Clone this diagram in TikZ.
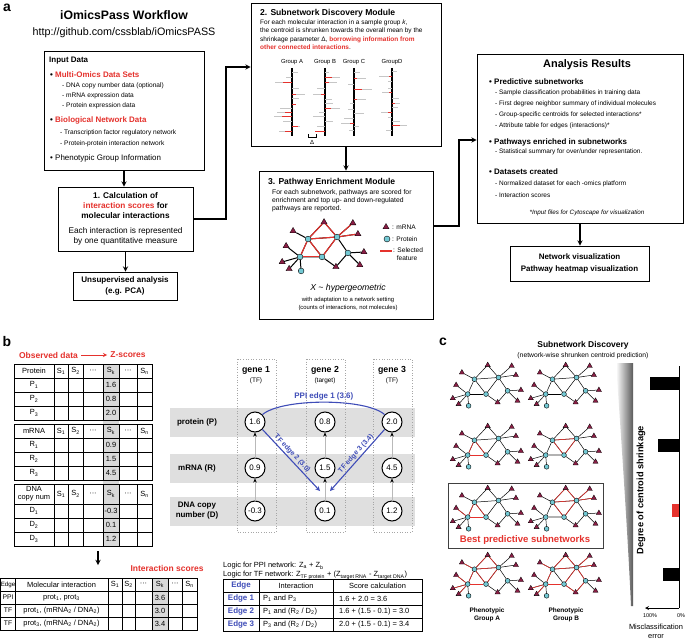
\documentclass[tikz,border=0pt]{standalone}
\usepackage{fontspec}
\setmainfont{Liberation Sans}
\usetikzlibrary{arrows,arrows.meta,calc,positioning,shapes.geometric}

\definecolor{hired}{HTML}{E5322D}
\definecolor{edgeblue}{HTML}{3F4DB8}
\definecolor{protcol}{HTML}{73C9D4}
\definecolor{mrnacol}{HTML}{8A1E45}
\definecolor{bandgray}{HTML}{DFDFDF}
\definecolor{cellgray}{HTML}{D9D9D9}

\newcommand{\fsz}[2]{\fontsize{#1}{#2}\selectfont}
\newcommand{\redlinks}[2]{\foreach \a/\b in {#2} \draw[rlk] (#1-\a) -- (#1-\b);}

\tikzset{
  box/.style={draw, line width=0.9bp},
  arr/.style={->, line width=1.3bp},
  plbl/.style={font=\fsz{14}{14}\bfseries},
  ttl/.style={font=\fsz{8.6}{10}\bfseries, anchor=west},
  bul/.style={font=\fsz{8}{9}\bfseries, anchor=west},
  itm/.style={font=\fsz{6.6}{8}, anchor=west},
  txt/.style={font=\fsz{6.6}{8}},
  cell/.style={font=\fsz{7.5}{8}},
  blt/.style={font=\fsz{8}{9}\bfseries, text=edgeblue},
  zc/.style={circle, draw, line width=1bp, fill=white, minimum size=20bp, font=\fsz{8}{8}},
  tb/.style={line width=0.6bp},
  bar/.style={gray!45, line width=1bp},
  rbar/.style={hired, line width=1bp},
  garr/.style={gray!55, line width=0.9bp, -{Stealth[color=black, length=4bp, width=3.5bp]}},
  bl/.style={edgeblue, line width=1.1bp},
  prot/.style={circle, draw, fill=protcol, line width=0.4bp, minimum size=4.8bp},
  mrna/.style={regular polygon, regular polygon sides=3, draw, fill=mrnacol, line width=0.3bp, minimum size=6bp},
  lk/.style={line width=0.5bp},
  rlk/.style={hired, line width=0.6bp},
  pics/subnet/.style={code={
    \foreach \n/\x/\y in {p1/-11.6/-5.8, p2/12.5/-7.5, p3/-18.3/9.1, p4/0/9.1, p5/21.6/5.8, p6/-17.4/20.8}
      \node[prot] (-\n) at (\x,\y) {};
    \foreach \n/\x/\y in {t1/1.7/-19.9, t2/25.7/-19.1, t3/-24.1/-12.5, t4/29.9/-10, t5/-29.9/0, t6/34.9/5, t7/-33.2/13.3, t8/-27.4/19.1, t9/11.6/17.4, t10/31.5/15.8}
      \node[mrna] (-\n) at (\x,\y) {};
    \foreach \a/\b in {p1/t1, t1/p2, p1/p2, p2/t2, p2/t4, p1/p3, p1/p4, p3/p4, p4/p2, p1/t3, p3/t5, p3/t7, p3/t8, p3/p6, p4/t9, t9/p5, p5/p2, p5/t6, p5/t10}
      \draw[lk] (-\a) -- (-\b);
  }}
}

\begin{document}
\begin{tikzpicture}[x=1bp, y=-1bp, >=stealth, every node/.style={inner sep=0pt}]
\fill[white] (0,0) rectangle (685,640);
\useasboundingbox (0,0) rectangle (685,640);

% ---- a: workflow ----
\node[plbl] (la) at (7,8) {a};
\node[font=\fsz{12.3}{13}\bfseries] (wft) at (124,15) {iOmicsPass Workflow};
\node[font=\fsz{10.8}{11}] (url) at (124,33) {http://github.com/cssblab/iOmicsPASS};

\node[box, minimum width=160bp, minimum height=119bp] (inbox) at (124,110.5) {};
\node[bul] (in1) at (49,61) {Input Data};
\node[bul] (in2) at (50,75) {• \textcolor{hired}{Multi-Omics Data Sets}};
\node[itm] (in3) at (62,86) {- DNA copy number data (optional)};
\node[itm] (in4) at (62,96) {- mRNA expression data};
\node[itm] (in5) at (62,106) {- Protein expression data};
\node[bul] (in6) at (50,120) {• \textcolor{hired}{Biological Network Data}};
\node[itm] (in7) at (60,133) {- Transcription factor regulatory network};
\node[itm] (in8) at (60,144) {- Protein-protein interaction network};
\node[bul, font=\fsz{8}{9}] (in9) at (50,158) {• Phenotypic Group Information};

\node[box, minimum width=135bp, minimum height=64bp] (calc) at (125.5,219) {};
\node[font=\fsz{8.3}{10}\bfseries, align=center] (c1) at (125.5,206) {1. Calculation of\\\textcolor{hired}{interaction scores} for\\molecular interactions};
\node[font=\fsz{8.3}{10}, align=center] (c2) at (125.5,236) {Each interaction is represented\\by one quantitative measure};

\node[box, minimum width=104bp, minimum height=28bp, font=\fsz{8.1}{10.5}\bfseries, align=center] (unsup) at (125,286) {Unsupervised analysis\\(e.g. PCA)};

% module 2
\node[box, minimum width=190bp, minimum height=143bp] (disc) at (346,74.5) {};
\node[ttl] (d1) at (260,13) {2. Subnetwork Discovery Module};
\node[font=\fsz{6.5}{8.5}, align=left, anchor=north west] (d2) at (260,19.5) {For each molecular interaction in a sample group \textit{k},\\the centroid is shrunken towards the overall mean by the\\shrinkage parameter Δ, \textcolor{hired}{\bfseries borrowing information from}\\\textcolor{hired}{\bfseries other connected interactions}.};
\foreach \gx/\gn in {292/Group A, 325/Group B, 354/Group C, 392/GroupD} {
  \node[font=\fsz{5.9}{6}] (g\gx) at (\gx,62) {\gn};
  \draw[line width=1.3bp] (\gx,68) -- (\gx,136);
}
\foreach \y/\a/\b/\r in {73/0/6/0, 78/-6/0/0, 83/-17/0/-9, 89/0/7/0, 95/0/13/4, 99/0/7/0, 105/0/4/4, 109/-12/0/0, 113/-15/0/-7, 117/-18/0/-10, 122/-9/0/0, 127/0/8/6, 132/-13/0/-7}
  {\draw[bar] (292+\a,\y) -- (292+\b,\y); \draw[rbar] (292,\y) -- (292+\r,\y);}
\foreach \y/\a/\b/\r in {73/0/4/0, 78/0/15/7, 83/0/12/4, 89/-8/0/0, 95/-12/0/-4, 100/0/7/0, 104/0/8/0, 109/0/15/6, 113/-6/0/0, 117/-12/0/0, 122/0/8/0, 127/-8/0/0, 132/-10/0/-10}
  {\draw[bar] (325+\a,\y) -- (325+\b,\y); \draw[rbar] (325,\y) -- (325+\r,\y);}
\foreach \y/\a/\b/\r in {73/0/6/0, 79/0/12/3, 85/-6/0/0, 90/0/18/8, 100/0/12/3, 104/-4/0/0, 110/-6/0/0, 114/0/10/0, 119/-10/0/0, 124/-13/0/-4, 127/0/5/0, 131/-5/0/0}
  {\draw[bar] (354+\a,\y) -- (354+\b,\y); \draw[rbar] (354,\y) -- (354+\r,\y);}
\foreach \y/\a/\b/\r in {72/0/5/0, 77/-13/0/-3, 82/-4/0/0, 89/-4/0/0, 93/-10/0/-3, 99/0/7/0, 104/0/8/3, 108/0/6/0, 113/-11/0/-4, 118/-4/0/0, 122/0/8/0, 126/0/15/8, 131/-6/0/0}
  {\draw[bar] (392+\a,\y) -- (392+\b,\y); \draw[rbar] (392,\y) -- (392+\r,\y);}
\draw[line width=0.6bp] (308,134) -- (308,137) -- (316,137) -- (316,134);
\node[font=\fsz{6}{6}] (dl) at (312,142) {Δ};

% module 3
\node[box, minimum width=174bp, minimum height=148bp] (path) at (346,245) {};
\node[ttl] (p1) at (268,182) {3. Pathway Enrichment Module};
\node[font=\fsz{6.8}{8}, align=left, anchor=north west] (p2) at (272,189.5) {For each subnetwork, pathways are scored for\\enrichment and top up- and down-regulated\\pathways are reported.};
\pic[scale=1.2, transform shape, lk/.style={line width=1bp}] (M) at (322,246) {subnet};
\begin{scope}[rlk/.style={hired, line width=1.1bp}]
  \redlinks{M}{p1/t1, t1/p2, p1/p2, p2/t2, p2/t4, p1/p3, p1/p4, p3/p4, p4/p2}
\end{scope}
\node[mrna, minimum size=7bp] (lgm) at (386,227) {};
\node[txt, anchor=west] (lgmt) at (392,227) {: mRNA};
\node[prot, minimum size=6bp] (lgp) at (387,239) {};
\node[txt, anchor=west] (lgpt) at (392,239) {: Protein};
\coordinate (lr1) at (380,251); \coordinate (lr2) at (392,251);
\draw[hired, line width=1.2bp] (lr1) -- (lr2);
\node[txt, anchor=north west, align=left] (lgst) at (393,247.5) {: Selected\\\ \ feature};
\node[font=\fsz{8.7}{10}\itshape] (xh) at (348,288) {X \textasciitilde\ hypergeometric};
\node[font=\fsz{5.9}{8}, align=center] (ad) at (348,304) {with adaptation to a network setting\\(counts of interactions, not molecules)};

% results
\node[box, minimum width=206bp, minimum height=169bp] (res) at (580,138.5) {};
\node[font=\fsz{11}{12}\bfseries] (r0) at (587,65) {Analysis Results};
\node[bul] (r1) at (489,82) {• Predictive subnetworks};
\node[itm, font=\fsz{6.5}{8}] (r2) at (495,93) {- Sample classification probabilities in training data};
\node[itm, font=\fsz{6.5}{8}] (r3) at (495,104) {- First degree neighbor summary of individual molecules};
\node[itm, font=\fsz{6.5}{8}] (r4) at (495,115) {- Group-specific centroids for selected interactions*};
\node[itm, font=\fsz{6.5}{8}] (r5) at (495,126) {- Attribute table for edges (interactions)*};
\node[bul] (r6) at (489,142) {• Pathways enriched in subnetworks};
\node[itm, font=\fsz{6.5}{8}] (r7) at (495,152) {- Statistical summary for over/under representation.};
\node[bul] (r8) at (489,172) {• Datasets created};
\node[itm, font=\fsz{6.5}{8}] (r9) at (495,184) {- Normalized dataset for each -omics platform};
\node[itm, font=\fsz{6.5}{8}] (r10) at (495,195) {- Interaction scores};
\node[font=\fsz{6.3}{8}\itshape] (r11) at (587,213) {*Input files for Cytoscape for visualization};
\node[box, minimum width=139bp, minimum height=35bp, font=\fsz{8}{12}\bfseries, align=center] (vis) at (579.5,263.5) {Network visualization\\Pathway heatmap visualization};

\draw[arr] (inbox.south) -- (inbox.south |- calc.north);
\draw[arr] (calc.south) -- (calc.south |- unsup.north);
\coordinate (j1) at (226,67);
\draw[arr] (calc.east) -| (j1) -- (j1 -| disc.west);
\draw[arr] (disc.south) -- (disc.south |- path.north);
\coordinate (j2) at (459,226);
\coordinate (j3) at (470,140);
\draw[arr] (j2 -| path.east) -- (j2) |- (j3 -| res.west);
\draw[arr] (res.south) -- (res.south |- vis.north);

% ---- b: interaction scores ----
\node[plbl] (lb) at (7,342) {b};
\node[font=\fsz{8.5}{9}\bfseries, text=hired] (obs) at (48.5,355) {Observed data};
\node[font=\fsz{8.5}{9}\bfseries, text=hired] (zs) at (128,355) {Z-scores};
\draw[hired, ->, line width=0.9bp, shorten <=3bp, shorten >=3bp] (obs) -- (zs);

\fill[cellgray] (103,364) rectangle (119,546);
\foreach \top/\hh/\nm/\lab/\va/\vb/\vc in {364/14/P/Protein/1.6/0.8/2.0, 424/14/R/mRNA/0.9/1.5/4.5, 484/20/D/{DNA\\copy num}/-0.3/0.1/1.2} {
  \draw[tb] (14,\top) rectangle (152,\top+\hh+42);
  \foreach \y in {0,14,28} \draw[tb] (14,\top+\hh+\y) -- (152,\top+\hh+\y);
  \foreach \x in {54,68,83,103,119,137} \draw[tb] (\x,\top) -- (\x,\top+\hh+42);
  \node[cell, align=center, font=\fsz{7.5}{8}] (h\nm) at (34,\top+\hh/2) {\lab};
  \foreach \x/\s in {61/S\textsubscript{1}, 75.5/S\textsubscript{2}, 93/···, 111/S\textsubscript{k}, 128/···, 144.5/S\textsubscript{n}}
    \node[cell] (h\nm\x) at (\x,\top+\hh/2) {\s};
  \foreach \i/\v in {1/\va, 2/\vb, 3/\vc} {
    \node[cell] (\nm\i) at (34,\top+\hh+14*\i-7) {\nm\textsubscript{\i}};
    \node[cell] (v\nm\i) at (111,\top+\hh+14*\i-7) {\v};
  }
}
\coordinate (ta) at (98,551); \coordinate (tb) at (98,565);
\draw[arr] (ta) -- (tb);
\node[font=\fsz{8.5}{9}\bfseries, text=hired] (isc) at (167,568) {Interaction scores};

\fill[cellgray] (152,578) rectangle (168,630);
\draw[tb] (0.5,578) rectangle (197,630);
\foreach \y in {591,604,617} \draw[tb] (0.5,\y) -- (197,\y);
\foreach \x in {15.5,108,122,135,152,168,182} \draw[tb] (\x,578) -- (\x,630);
\node[cell, font=\fsz{6.2}{7}] (ih0) at (8,584.5) {Edge};
\node[cell] (ih1) at (61.5,584.5) {Molecular interaction};
\foreach \x/\s in {115/S\textsubscript{1}, 128.5/S\textsubscript{2}, 143.5/···, 160/S\textsubscript{k}, 175/···, 189.5/S\textsubscript{n}}
  \node[cell] (ih\x) at (\x,584.5) {\s};
\foreach \i/\y/\e/\m/\v in {1/597.5/PPI/{prot\textsubscript{1}, prot\textsubscript{3}}/3.6, 2/610.5/TF/{prot\textsubscript{1}, (mRNA\textsubscript{2} / DNA\textsubscript{2})}/3.0, 3/623.5/TF/{prot\textsubscript{3}, (mRNA\textsubscript{2} / DNA\textsubscript{2})}/3.4} {
  \node[cell, font=\fsz{6.8}{7}] (ie\i) at (8,\y) {\e};
  \node[cell] (im\i) at (61.5,\y) {\m};
  \node[cell] (iv\i) at (160,\y) {\v};
}

% gene layers
\foreach \y in {422,468,511} \fill[bandgray] (170,\y-14.5) rectangle (415,\y+14.5);
\foreach \x in {256.5,325.5,392.5} \draw[gray!70, dotted, line width=0.6bp] (\x-19.5,359) rectangle (\x+19.5,532);
\node[font=\fsz{8}{9}\bfseries] (bp) at (197,422) {protein (P)};
\node[font=\fsz{8}{9}\bfseries] (br) at (197,468) {mRNA (R)};
\node[font=\fsz{8}{10}\bfseries, align=center] (bd) at (197,511) {DNA copy\\number (D)};
\foreach \g/\x/\t in {1/256/TF, 2/325/target, 3/392/TF} {
  \node[font=\fsz{8.8}{9}\bfseries] (gh\g) at (\x,370) {gene \g};
  \node[font=\fsz{6.5}{7}] (gs\g) at (\x,381) {(\t)};
}
\foreach \g/\x/\p/\r/\d in {1/255/1.6/0.9/-0.3, 2/325/0.8/1.5/0.1, 3/392/2.0/4.5/1.2} {
  \node[zc] (gP\g) at (\x,422) {\p};
  \node[zc] (gR\g) at (\x,468) {\r};
  \node[zc] (gD\g) at (\x,511) {\d};
  \draw[garr] (gD\g) -- (gR\g);
  \draw[garr] (gR\g) -- (gP\g);
}
\coordinate (e2) at (320,491); \coordinate (e3) at (330,491);
\draw[bl] (gP1.north east) .. controls (282,398) and (366,398) .. (gP3.north west) node[midway, above=1bp, blt] (ppi) {PPI edge 1 (3.6)};
\draw[bl, ->] (gP1.south east) -- (e2) node[pos=0.45, sloped, above=1.5bp, blt, font=\fsz{7}{8}\bfseries] (tf2) {TF edge 2 (3.0)};
\draw[bl, ->] (gP3.south west) -- (e3) node[pos=0.45, sloped, above=1.5bp, blt, font=\fsz{7}{8}\bfseries] (tf3) {TF edge 3 (3.4)};

\node[cell, anchor=west] (lg1) at (223,566) {Logic for PPI network: Z\textsubscript{a} + Z\textsubscript{b}};
\node[cell, anchor=west] (lg2) at (223,575.5) {Logic for TF network: Z\textsubscript{TF protein} + (Z\textsubscript{target RNA} - Z\textsubscript{target DNA})};
\draw[tb, line width=0.8bp] (223,579) rectangle (422,631);
\foreach \y in {592,605,618} \draw[tb, line width=0.8bp] (223,\y) -- (422,\y);
\foreach \x in {259,333} \draw[tb, line width=0.8bp] (\x,579) -- (\x,631);
\node[blt] (th0) at (241,585.5) {Edge};
\node[cell] (th1) at (296,585.5) {Interaction};
\node[cell] (th2) at (377.5,585.5) {Score calculation};
\foreach \i/\y/\a/\s in {1/598.5/{P\textsubscript{1} and P\textsubscript{3}}/{1.6 + 2.0 = 3.6}, 2/611.5/{P\textsubscript{1} and (R\textsubscript{2} / D\textsubscript{2})}/{1.6 + (1.5 - 0.1) = 3.0}, 3/624.5/{P\textsubscript{3} and (R\textsubscript{2} / D\textsubscript{2})}/{2.0 + (1.5 - 0.1) = 3.4}} {
  \node[blt] (tbe\i) at (241,\y) {Edge \i};
  \node[cell, anchor=west] (tbi\i) at (263,\y) {\a};
  \node[cell, anchor=west] (tbs\i) at (339,\y) {\s};
}

% ---- c: subnetwork discovery ----
\node[plbl] (lc) at (443,342) {c};
\node[font=\fsz{8.5}{9}\bfseries] (ct1) at (583,345) {Subnetwork Discovery};
\node[font=\fsz{6.8}{8}] (ct2) at (583,356) {(network-wise shrunken centroid prediction)};
\node[draw=black!75, line width=0.9bp, minimum width=155bp, minimum height=65bp] (bestbox) at (525.5,515.5) {};
\foreach \r/\y in {1/385, 2/446, 3/508, 4/575} {
  \pic (A\r) at (486,\y) {subnet};
  \pic (B\r) at (564,\y) {subnet};
}
\draw[gray!60, line width=1.3bp] (B2-p3) -- (B2-p4);
\draw[gray!60, line width=1.3bp] (B3-p3) -- (B3-p4);
\redlinks{A2}{p1/p3, p1/p4, p3/p4}
\redlinks{B2}{p1/p2, p1/p4, p4/p2}
\redlinks{A3}{p1/p3, p1/p4, p3/p4, p3/t5}
\redlinks{B3}{p1/t1, t1/p2, p1/p2, p2/t2, p2/t4, p1/p4, p4/p2}
\redlinks{A4}{p1/t1, t1/p2, p1/p2, p1/t3, p1/p3, p1/p4, p3/p4, p3/t5, p3/t7, p3/t8, p4/p2}
\redlinks{B4}{p1/t1, t1/p2, p1/p2, p2/t2, p2/t4, p1/p3, p3/p4, p4/p2, p4/t9, t9/p5, p5/p2, p3/t7, p3/t8, p1/t3}
\node[font=\fsz{9.6}{10}\bfseries, text=hired] (best) at (525,540) {Best predictive subnetworks};
\node[font=\fsz{6.5}{8}\bfseries, align=center] (pa) at (487,615) {Phenotypic\\Group A};
\node[font=\fsz{6.5}{8}\bfseries, align=center] (pb) at (566,615) {Phenotypic\\Group B};

\shade[left color=white, right color=black!65] (616,363) .. controls (622,450) and (628,540) .. (631,606) -- (633,606) -- (633,363) -- cycle;
\node[font=\fsz{9.3}{10}\bfseries, rotate=90] (deg) at (641,490) {Degree of centroid shrinkage};
\coordinate (axt) at (679,366); \coordinate (ax0) at (679,608); \coordinate (axl) at (645,608);
\draw[line width=0.8bp] (axt) -- (ax0);
\draw[line width=0.8bp, ->] (ax0) -- (axl);
\foreach \y/\w/\c in {383/29/black, 445/21/black, 510/7/hired, 574/16/black}
  \fill[\c] (679-\w,\y-6.5) rectangle (679,\y+6.5);
\node[font=\fsz{5.5}{6}] (p100) at (650,616) {100\%};
\node[font=\fsz{5.5}{6}] (p0) at (681,616) {0\%};
\node[font=\fsz{7.5}{9}, align=center] (mis) at (656,631) {Misclassification\\error};
\end{tikzpicture}
\end{document}
